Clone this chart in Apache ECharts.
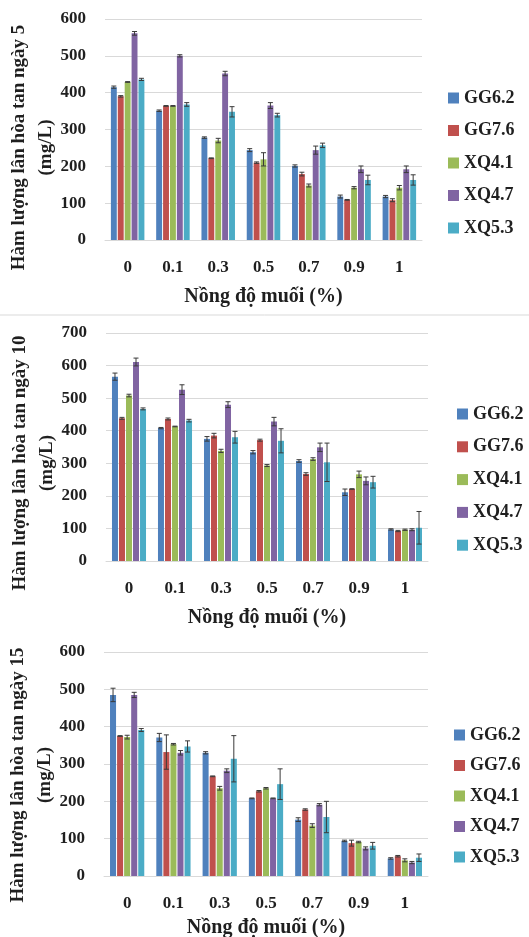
<!DOCTYPE html>
<html><head><meta charset="utf-8">
<script src="https://cdn.jsdelivr.net/npm/echarts@6/dist/echarts.min.js"></script>
<style>html,body{margin:0;padding:0;background:#fff}#c{width:529px;height:937px}</style>
</head><body><div id="c"></div>
<script>
var categories = ['0', '0.1', '0.3', '0.5', '0.7', '0.9', '1'];
var seriesNames = ['GG6.2', 'GG7.6', 'XQ4.1', 'XQ4.7', 'XQ5.3'];
var colors = ['#4F81BD', '#C0504D', '#9BBB59', '#8064A2', '#4BACC6'];

// Day 5
var day5_GG62 = [415, 351, 278, 244, 201, 118, 118];
var day5_GG76 = [390, 364, 222, 210, 179, 109, 108];
var day5_XQ41 = [429, 364, 270, 219, 148, 142, 142];
var day5_XQ47 = [561, 500, 452, 365, 244, 192, 192];
var day5_XQ53 = [436, 368, 348, 339, 257, 163, 163];
var day5_err_GG62 = [3, 2, 2, 4, 3, 4, 3];
var day5_err_GG76 = [2, 1, 1, 2, 5, 1, 4];
var day5_err_XQ41 = [1, 1, 6, 18, 4, 3, 6];
var day5_err_XQ47 = [5, 3, 6, 8, 11, 9, 9];
var day5_err_XQ53 = [3, 5, 14, 5, 6, 13, 14];

// Day 10
var day10_GG62 = [566, 408, 375, 334, 307, 211, 97];
var day10_GG76 = [438, 436, 385, 371, 267, 221, 92];
var day10_XQ41 = [508, 413, 338, 293, 313, 266, 96];
var day10_XQ47 = [611, 526, 480, 428, 349, 246, 96];
var day10_XQ53 = [467, 431, 380, 369, 303, 242, 102];
var day10_err_GG62 = [11, 2, 7, 5, 4, 10, 2];
var day10_err_GG76 = [3, 3, 7, 3, 4, 1, 2];
var day10_err_XQ41 = [4, 1, 5, 3, 4, 10, 2];
var day10_err_XQ47 = [12, 15, 9, 13, 13, 12, 3];
var day10_err_XQ53 = [3, 4, 18, 37, 59, 18, 50];

// Day 15
var day15_GG62 = [485, 371, 330, 208, 151, 94, 47];
var day15_GG76 = [375, 332, 267, 227, 178, 88, 53];
var day15_XQ41 = [372, 353, 235, 235, 135, 91, 42];
var day15_XQ47 = [485, 330, 282, 208, 191, 74, 36];
var day15_XQ53 = [391, 347, 314, 246, 158, 81, 49];
var day15_err_GG62 = [18, 11, 3, 1, 5, 2, 2];
var day15_err_GG76 = [1, 46, 1, 2, 2, 8, 2];
var day15_err_XQ41 = [5, 2, 5, 2, 5, 2, 4];
var day15_err_XQ47 = [7, 6, 5, 1, 3, 4, 3];
var day15_err_XQ53 = [4, 15, 62, 41, 42, 9, 10];

var yTitles = ['Hàm lượng lân hòa tan ngày 5\n(mg/L)', 'Hàm lượng lân hòa tan ngày 10\n(mg/L)', 'Hàm lượng lân hòa tan ngày 15\n(mg/L)'];
var xTitle = 'Nồng độ muối (%)';
var yMax = [600, 700, 600];

var panels = [
  {vals: [day5_GG62, day5_GG76, day5_XQ41, day5_XQ47, day5_XQ53], errs: [day5_err_GG62, day5_err_GG76, day5_err_XQ41, day5_err_XQ47, day5_err_XQ53]},
  {vals: [day10_GG62, day10_GG76, day10_XQ41, day10_XQ47, day10_XQ53], errs: [day10_err_GG62, day10_err_GG76, day10_err_XQ41, day10_err_XQ47, day10_err_XQ53]},
  {vals: [day15_GG62, day15_GG76, day15_XQ41, day15_XQ47, day15_XQ53], errs: [day15_err_GG62, day15_err_GG76, day15_err_XQ41, day15_err_XQ47, day15_err_XQ53]}
];

var FONT = '"Liberation Serif", "Times New Roman", serif';
var TXT = '#1f1f1f';
var CAT_GAP = 0.26, BAR_GAP = 0.17;

var grids = [
  {left: 105, top: 19, width: 317, height: 221, outerBoundsMode: 'none', containLabel: false},
  {left: 106, top: 333, width: 322, height: 228, outerBoundsMode: 'none', containLabel: false},
  {left: 104, top: 652, width: 324, height: 224, outerBoundsMode: 'none', containLabel: false}
];
var xNameGaps = [47, 47, 42];
var yNameShift = [36, 32, 22];
var legends = [
  {left: 448, top: 88, itemGap: 12.5},
  {left: 457, top: 404, itemGap: 12.8},
  {left: 454, top: 725, itemGap: 10.5}
];

function renderErr(params, api) {
  var ci = api.value(0), v = api.value(1), e = api.value(2), si = api.value(3);
  var band = api.size([1, 0])[0];
  var usable = band * (1 - CAT_GAP);
  var bw = usable / (5 + 4 * BAR_GAP);
  var pitch = bw * (1 + BAR_GAP);
  var c = api.coord([ci, v]);
  var x = c[0] + (si - 2) * pitch;
  var yt = api.coord([ci, v + e])[1];
  var yb = api.coord([ci, v - e])[1];
  var cap = 2.5;
  var st = {stroke: '#3a3a3a', lineWidth: 1};
  return {type: 'group', children: [
    {type: 'line', shape: {x1: x, y1: yt, x2: x, y2: yb}, style: st},
    {type: 'line', shape: {x1: x - cap, y1: yt, x2: x + cap, y2: yt}, style: st},
    {type: 'line', shape: {x1: x - cap, y1: yb, x2: x + cap, y2: yb}, style: st}
  ]};
}

var option = {
  animation: false,
  backgroundColor: '#fff',
  color: colors,
  grid: grids,
  legend: legends.map(function (l) {
    return {
      orient: 'vertical', left: l.left, top: l.top, itemGap: l.itemGap, padding: 0,
      itemWidth: 11, itemHeight: 11, icon: 'rect', data: seriesNames,
      selectedMode: false,
      textStyle: {fontFamily: FONT, fontWeight: 'bold', fontSize: 18, color: TXT, lineHeight: 20}
    };
  }),
  xAxis: grids.map(function (g, i) {
    return {
      type: 'category', gridIndex: i, data: categories,
      axisLine: {lineStyle: {color: '#d9d9d9'}}, axisTick: {show: false},
      axisLabel: {fontFamily: FONT, fontWeight: 'bold', fontSize: 17, color: TXT, margin: 19},
      name: xTitle, nameLocation: 'middle', nameGap: xNameGaps[i], nameMoveOverlap: false,
      nameTextStyle: {fontFamily: FONT, fontWeight: 'bold', fontSize: 20, color: TXT}
    };
  }),
  yAxis: grids.map(function (g, i) {
    return {
      type: 'value', gridIndex: i, min: 0, max: yMax[i], interval: 100,
      axisLine: {show: false}, axisTick: {show: false},
      splitLine: {lineStyle: {color: '#d9d9d9'}},
      axisLabel: {fontFamily: FONT, fontWeight: 'bold', fontSize: 17, color: TXT, margin: 19},
      name: yTitles[i], nameLocation: 'middle', nameRotate: 90, nameGap: 45, nameMoveOverlap: false,
      nameTextStyle: {fontFamily: FONT, fontWeight: 'bold', fontSize: 19, color: TXT, lineHeight: 27,
        padding: [0, yNameShift[i], 0, 0]}
    };
  }),
  graphic: [{type: 'line', shape: {x1: 0, y1: 315, x2: 529, y2: 315}, style: {stroke: '#d9d9d9', lineWidth: 1}}],
  series: []
};

panels.forEach(function (p, gi) {
  p.vals.forEach(function (vals, si) {
    option.series.push({
      type: 'bar', name: seriesNames[si], xAxisIndex: gi, yAxisIndex: gi,
      data: vals, barGap: (BAR_GAP * 100) + '%', barCategoryGap: (CAT_GAP * 100) + '%',
      itemStyle: {color: colors[si]}
    });
  });
  p.vals.forEach(function (vals, si) {
    option.series.push({
      type: 'custom', xAxisIndex: gi, yAxisIndex: gi, renderItem: renderErr,
      data: vals.map(function (v, ci) { return [ci, v, p.errs[si][ci], si]; }),
      z: 10, silent: true
    });
  });
});

var chart = echarts.init(document.getElementById('c'), null, {renderer: 'canvas'});
chart.setOption(option);
</script>
</body></html>
